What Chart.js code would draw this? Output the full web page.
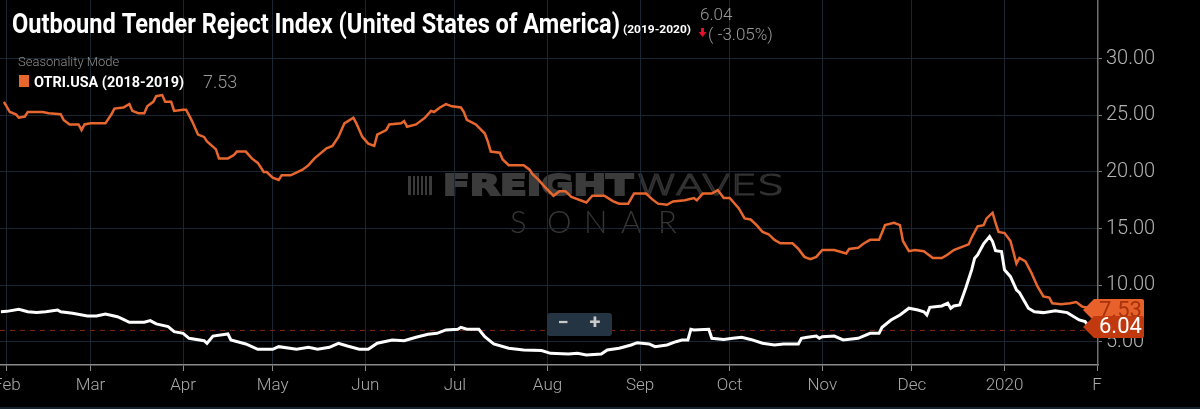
<!DOCTYPE html>
<html>
<head>
<meta charset="utf-8">
<script src="https://cdn.jsdelivr.net/npm/chart.js@4.4.1/dist/chart.umd.min.js"></script>
<style>
    html, body { margin: 0; padding: 0; background: #000; }
    #wrap { position: relative; width: 1200px; height: 409px; }
</style>
</head>
<body>
<div id="wrap"><canvas id="otriChart"></canvas></div>
<script>
// Outbound Tender Reject Index - seasonality view

// x = days since Feb 1 (2019 for the current series, prior year shifted for the orange one)
const monthStarts = [0, 28, 59, 89, 120, 150, 181, 212, 242, 273, 303, 334, 365];
const monthLabels = ['Feb', 'Mar', 'Apr', 'May', 'Jun', 'Jul', 'Aug', 'Sep', 'Oct', 'Nov', 'Dec', '2020', 'F'];
const yTicks = [5, 10, 15, 20, 25, 30];

// OTRI.USA 2019-2020 (white)
const currentDays = [
    -2, 0, 4, 7, 10, 13, 17, 18, 22, 27,
    30, 33, 37, 39, 41, 46, 48, 50, 54, 56,
    59, 61, 66, 67, 69, 74, 75, 80, 84, 89,
    91, 97, 101, 104, 108, 111, 114, 118, 121, 124,
    129, 133, 137, 141, 144, 147, 151, 152, 154, 158,
    160, 163, 168, 173, 179, 182, 188, 191, 194, 199,
    201, 205, 209, 211, 215, 217, 221, 224, 226, 228,
    229, 230, 235, 236, 240, 243, 246, 249, 253, 257,
    260, 265, 266, 268, 271, 272, 273, 277, 280, 285,
    289, 292, 293, 296, 299, 302, 305, 307, 308, 309,
    313, 315, 316, 317, 319, 321, 323, 324, 325, 327,
    329, 330, 331, 333, 334, 336, 338, 339, 342, 344,
    347, 351, 355, 359, 361, 363
];
const currentValues = [
    7.65, 7.68, 7.87, 7.65, 7.57, 7.65, 7.80, 7.65, 7.51, 7.27,
    7.27, 7.45, 7.21, 6.98, 6.72, 6.72, 6.86, 6.57, 6.33, 5.89,
    5.74, 5.30, 5.09, 4.86, 5.50, 5.68, 5.15, 4.80, 4.33, 4.33,
    4.56, 4.33, 4.50, 4.33, 4.50, 4.86, 4.62, 4.33, 4.33, 4.86,
    5.15, 5.09, 5.39, 5.65, 5.74, 6.04, 6.10, 6.27, 6.10, 6.10,
    5.44, 4.80, 4.42, 4.27, 4.22, 3.97, 3.91, 3.97, 3.82, 3.91,
    4.27, 4.42, 4.71, 4.91, 4.80, 4.56, 4.71, 5.00, 5.15, 5.15,
    6.10, 6.04, 6.10, 5.30, 5.20, 5.30, 5.39, 5.20, 4.86, 4.71,
    4.80, 4.80, 5.30, 5.39, 5.50, 5.30, 5.44, 5.50, 5.15, 5.30,
    5.74, 5.74, 6.27, 6.92, 7.36, 7.96, 7.80, 7.65, 7.36, 8.04,
    8.16, 8.40, 7.96, 8.16, 8.25, 9.72, 11.35, 12.38, 12.67, 13.65,
    14.29, 13.85, 13.05, 12.96, 11.35, 10.75, 9.58, 9.34, 7.96, 7.65,
    7.57, 7.74, 7.57, 6.92, 6.77, 6.04
];

// OTRI.USA 2018-2019 (orange)
const priorDays = [
    -1, 1, 3, 4, 6, 7, 12, 14, 18, 19,
    21, 24, 25, 26, 28, 33, 35, 36, 39, 41,
    42, 44, 46, 47, 49, 50, 52, 53, 55, 56,
    59, 60, 62, 64, 66, 67, 70, 71, 74, 76,
    77, 80, 82, 84, 86, 87, 89, 91, 92, 95,
    99, 101, 103, 107, 109, 111, 113, 116, 117, 119,
    121, 123, 124, 127, 128, 132, 133, 134, 137, 140,
    142, 143, 145, 147, 149, 152, 153, 154, 157, 160,
    161, 162, 165, 166, 168, 173, 175, 176, 178, 180,
    183, 185, 187, 189, 194, 196, 200, 203, 205, 208,
    210, 214, 216, 218, 221, 223, 227, 230, 231, 233,
    236, 238, 240, 242, 245, 247, 249, 251, 253, 255,
    257, 259, 263, 265, 267, 269, 271, 272, 273, 277,
    281, 282, 285, 287, 289, 292, 294, 297, 299, 300,
    302, 304, 307, 308, 310, 313, 315, 317, 320, 322,
    323, 325, 327, 328, 330, 331, 332, 334, 336, 338,
    339, 341, 343, 345, 347, 349, 350, 353, 356, 358,
    360, 362, 364
];
const priorValues = [
    26.2, 25.3, 25.1, 24.8, 24.9, 25.3, 25.3, 25.2, 25.1, 24.6,
    24.2, 24.2, 23.7, 24.2, 24.3, 24.3, 25.1, 25.6, 25.7, 26.0,
    25.4, 25.2, 25.2, 25.8, 26.2, 26.7, 26.8, 26.2, 26.2, 25.4,
    25.5, 25.5, 24.5, 23.3, 23.1, 22.7, 22.0, 21.2, 21.2, 21.5,
    21.8, 21.8, 21.2, 20.8, 20.0, 20.0, 19.5, 19.3, 19.7, 19.7,
    20.2, 20.6, 21.2, 22.1, 22.3, 23.1, 24.3, 24.8, 24.3, 23.1,
    22.5, 22.3, 23.3, 23.7, 24.2, 24.3, 24.5, 24.0, 24.2, 24.8,
    25.4, 25.3, 25.7, 26.0, 25.8, 25.7, 25.3, 24.6, 24.2, 23.4,
    22.7, 21.8, 21.7, 21.1, 20.6, 20.6, 20.2, 19.8, 19.3, 18.7,
    17.9, 18.3, 18.3, 17.8, 17.3, 17.9, 17.9, 17.4, 17.2, 17.2,
    18.1, 18.1, 17.6, 17.2, 17.1, 17.4, 17.5, 17.7, 17.5, 18.1,
    18.1, 18.4, 17.7, 17.7, 16.8, 15.9, 15.8, 15.3, 14.7, 14.5,
    14.0, 13.7, 13.7, 13.2, 12.5, 12.3, 12.5, 12.8, 13.1, 13.1,
    12.8, 13.2, 13.3, 13.7, 14.0, 14.0, 15.3, 15.5, 15.3, 13.9,
    13.0, 13.1, 13.0, 12.8, 12.4, 12.4, 12.7, 13.1, 13.4, 13.6,
    14.2, 15.2, 15.3, 15.9, 16.4, 15.5, 14.7, 14.6, 13.9, 11.9,
    12.4, 12.1, 11.1, 9.9, 9.0, 8.9, 8.4, 8.3, 8.4, 8.5,
    8.1, 8.0, 7.53
];

const currentLast = 6.04;
const priorLast = 7.53;
const changeText = '( -3.05%)';

const ORANGE = '#e8672e';
const RED_TAG = '#c1390f';
const GRID = '#1a2631';

function toPoints(days, values) {
    return days.map((d, i) => ({ x: d, y: values[i] }));
}

// draw text squeezed/stretched to a given width
function fitText(ctx, text, x, y, width, stroke) {
    const w = ctx.measureText(text).width;
    ctx.save();
    ctx.translate(x, y);
    ctx.scale(width / w, 1);
    if (stroke) ctx.strokeText(text, 0, 0);
    else ctx.fillText(text, 0, 0);
    ctx.restore();
}

function drawTag(ctx, right, cy, text, bg, fg) {
    const h = 22, tip = 1083, body = 1094;
    ctx.save();
    ctx.fillStyle = bg;
    ctx.beginPath();
    ctx.moveTo(tip, cy);
    ctx.lineTo(body, cy - h / 2);
    ctx.lineTo(right - 2, cy - h / 2);
    ctx.quadraticCurveTo(right, cy - h / 2, right, cy - h / 2 + 2);
    ctx.lineTo(right, cy + h / 2 - 2);
    ctx.quadraticCurveTo(right, cy + h / 2, right - 2, cy + h / 2);
    ctx.lineTo(body, cy + h / 2);
    ctx.closePath();
    ctx.fill();
    ctx.fillStyle = fg;
    ctx.font = '400 22px Roboto';
    ctx.textBaseline = 'middle';
    ctx.fillText(text, 1099, cy + 1);
    ctx.restore();
}

const sonarPlugin = {
    id: 'sonarDecor',
    beforeDraw(chart) {
        const ctx = chart.ctx;
        ctx.save();
        ctx.fillStyle = '#000';
        ctx.fillRect(0, 0, chart.width, chart.height);
        // thin strip along the bottom edge
        ctx.fillStyle = '#16212b';
        ctx.fillRect(0, chart.height - 2, chart.width, 2);

        // watermark
        ctx.fillStyle = '#3b3b3b';
        ctx.strokeStyle = '#3b3b3b';
        const bars = [[408, 3], [413, 2], [417, 2], [421, 2], [425, 2], [429, 3]];
        bars.forEach(b => ctx.fillRect(b[0], 176, b[1], 19));
        ctx.textBaseline = 'alphabetic';
        ctx.font = 'bold 28px "DejaVu Sans"';
        ctx.lineWidth = 2;
        fitText(ctx, 'FREIGHT', 443, 195, 190);
        fitText(ctx, 'FREIGHT', 443, 195, 190, true);
        ctx.font = '300 28px "DejaVu Sans"';
        ctx.strokeStyle = '#333333';
        ctx.lineWidth = 1.2;
        fitText(ctx, 'WAVES', 636, 195, 148, true);
        ctx.fillStyle = '#363636';
        ctx.font = '300 31px Lato';
        const sonar = 'SONAR';
        for (let i = 0; i < sonar.length; i++) {
            ctx.fillText(sonar[i], 510 + i * 37, 233);
        }
        ctx.restore();
    },
    beforeDatasetsDraw(chart) {
        const ctx = chart.ctx;
        const y = chart.scales.y.getPixelForValue(currentLast);
        ctx.save();
        ctx.strokeStyle = '#7c2611';
        ctx.lineWidth = 1;
        ctx.setLineDash([5, 5]);
        ctx.beginPath();
        ctx.moveTo(chart.chartArea.left, y + 0.5);
        ctx.lineTo(1086, y + 0.5);
        ctx.stroke();
        ctx.restore();
    },
    afterDraw(chart) {
        const ctx = chart.ctx;
        const ys = chart.scales.y;

        // last value tags
        drawTag(ctx, 1144, ys.getPixelForValue(priorLast) - 3, priorLast.toFixed(2), '#e8612b', '#a5330c');
        drawTag(ctx, 1144, ys.getPixelForValue(currentLast) - 3, currentLast.toFixed(2), RED_TAG, '#ffffff');

        // zoom buttons
        ctx.save();
        ctx.fillStyle = '#243442';
        ctx.beginPath();
        ctx.roundRect(547, 313, 65, 23, 3);
        ctx.fill();
        ctx.fillStyle = '#c9c9c9';
        ctx.font = 'bold 20px Roboto';
        ctx.textAlign = 'center';
        ctx.textBaseline = 'middle';
        ctx.fillText('\u2212', 563, 324);
        ctx.fillText('+', 595, 324);
        ctx.restore();

        // header
        ctx.save();
        ctx.textBaseline = 'alphabetic';
        ctx.fillStyle = '#ffffff';
        ctx.font = 'bold 28px Roboto';
        fitText(ctx, 'Outbound Tender Reject Index (United States of America)', 12, 33, 608);
        ctx.font = 'bold 11px Roboto';
        fitText(ctx, '(2019-2020)', 623, 33, 68);

        ctx.fillStyle = '#9a9a9a';
        ctx.font = '300 17px Roboto';
        ctx.fillText(currentLast.toFixed(2), 700, 20);
        ctx.fillText(changeText, 708, 40);

        // red down arrow
        ctx.fillStyle = '#e0102a';
        ctx.fillRect(701, 28, 3, 5);
        ctx.beginPath();
        ctx.moveTo(698.5, 32);
        ctx.lineTo(706.5, 32);
        ctx.lineTo(702.5, 37);
        ctx.closePath();
        ctx.fill();

        ctx.fillStyle = '#8f8f8f';
        ctx.font = '300 13px Roboto';
        ctx.fillText('Seasonality Mode', 18, 66);

        ctx.fillStyle = ORANGE;
        ctx.fillRect(19, 75, 10, 12);
        ctx.fillStyle = '#ffffff';
        ctx.font = 'bold 15px Roboto';
        fitText(ctx, 'OTRI.USA (2018-2019)', 34, 87, 150);
        ctx.fillStyle = '#9a9a9a';
        ctx.font = '300 18px Roboto';
        ctx.fillText(priorLast.toFixed(2), 203, 88);
        ctx.restore();
    }
};

const chart = new Chart(document.getElementById('otriChart').getContext('2d'), {
    type: 'line',
    data: {
        datasets: [
            {
                label: 'OTRI.USA (2018-2019)',
                data: toPoints(priorDays, priorValues),
                borderColor: ORANGE,
                borderWidth: 2.5,
                pointRadius: 0,
                tension: 0,
                fill: false
            },
            {
                label: 'OTRI.USA (2019-2020)',
                data: toPoints(currentDays, currentValues),
                borderColor: '#ffffff',
                borderWidth: 3,
                pointRadius: 0,
                tension: 0,
                fill: false
            }
        ]
    },
    options: {
        responsive: true,
        maintainAspectRatio: false,
        animation: false,
        layout: { padding: 0 },
        plugins: {
            legend: { display: false },
            tooltip: { enabled: false },
            title: { display: false }
        },
        scales: {
            x: {
                type: 'linear',
                min: -2.3,
                max: 365.3,
                afterBuildTicks: function(scale) {
                    scale.ticks = monthStarts.map(v => ({ value: v }));
                },
                afterFit: function(scale) {
                    scale.height = 44;
                    scale.paddingLeft = 0;
                    scale.paddingRight = 0;
                },
                ticks: {
                    autoSkip: false,
                    maxRotation: 0,
                    padding: 5,
                    color: '#a9a9a9',
                    font: { family: 'Roboto', size: 17, weight: '300' },
                    callback: function(value) {
                        const i = monthStarts.indexOf(value);
                        return i >= 0 ? monthLabels[i] : '';
                    }
                },
                grid: {
                    color: GRID,
                    tickColor: '#8a8a8a',
                    tickLength: 6
                },
                border: { color: '#8a8a8a', width: 1.5 }
            },
            y: {
                position: 'right',
                min: 2.94,
                max: 35.2,
                afterBuildTicks: function(scale) {
                    scale.ticks = yTicks.map(v => ({ value: v }));
                },
                afterFit: function(scale) {
                    scale.width = 102;
                    scale.paddingTop = 0;
                    scale.paddingBottom = 0;
                },
                ticks: {
                    padding: 4,
                    color: '#b3b3b3',
                    font: { family: 'Roboto', size: 20, weight: '300' },
                    callback: function(value) { return value.toFixed(2); }
                },
                grid: {
                    color: GRID,
                    tickColor: '#777',
                    tickLength: 4
                },
                border: { color: '#6f6f6f', width: 1.5 }
            }
        }
    },
    plugins: [sonarPlugin]
});
</script>
</body>
</html>
